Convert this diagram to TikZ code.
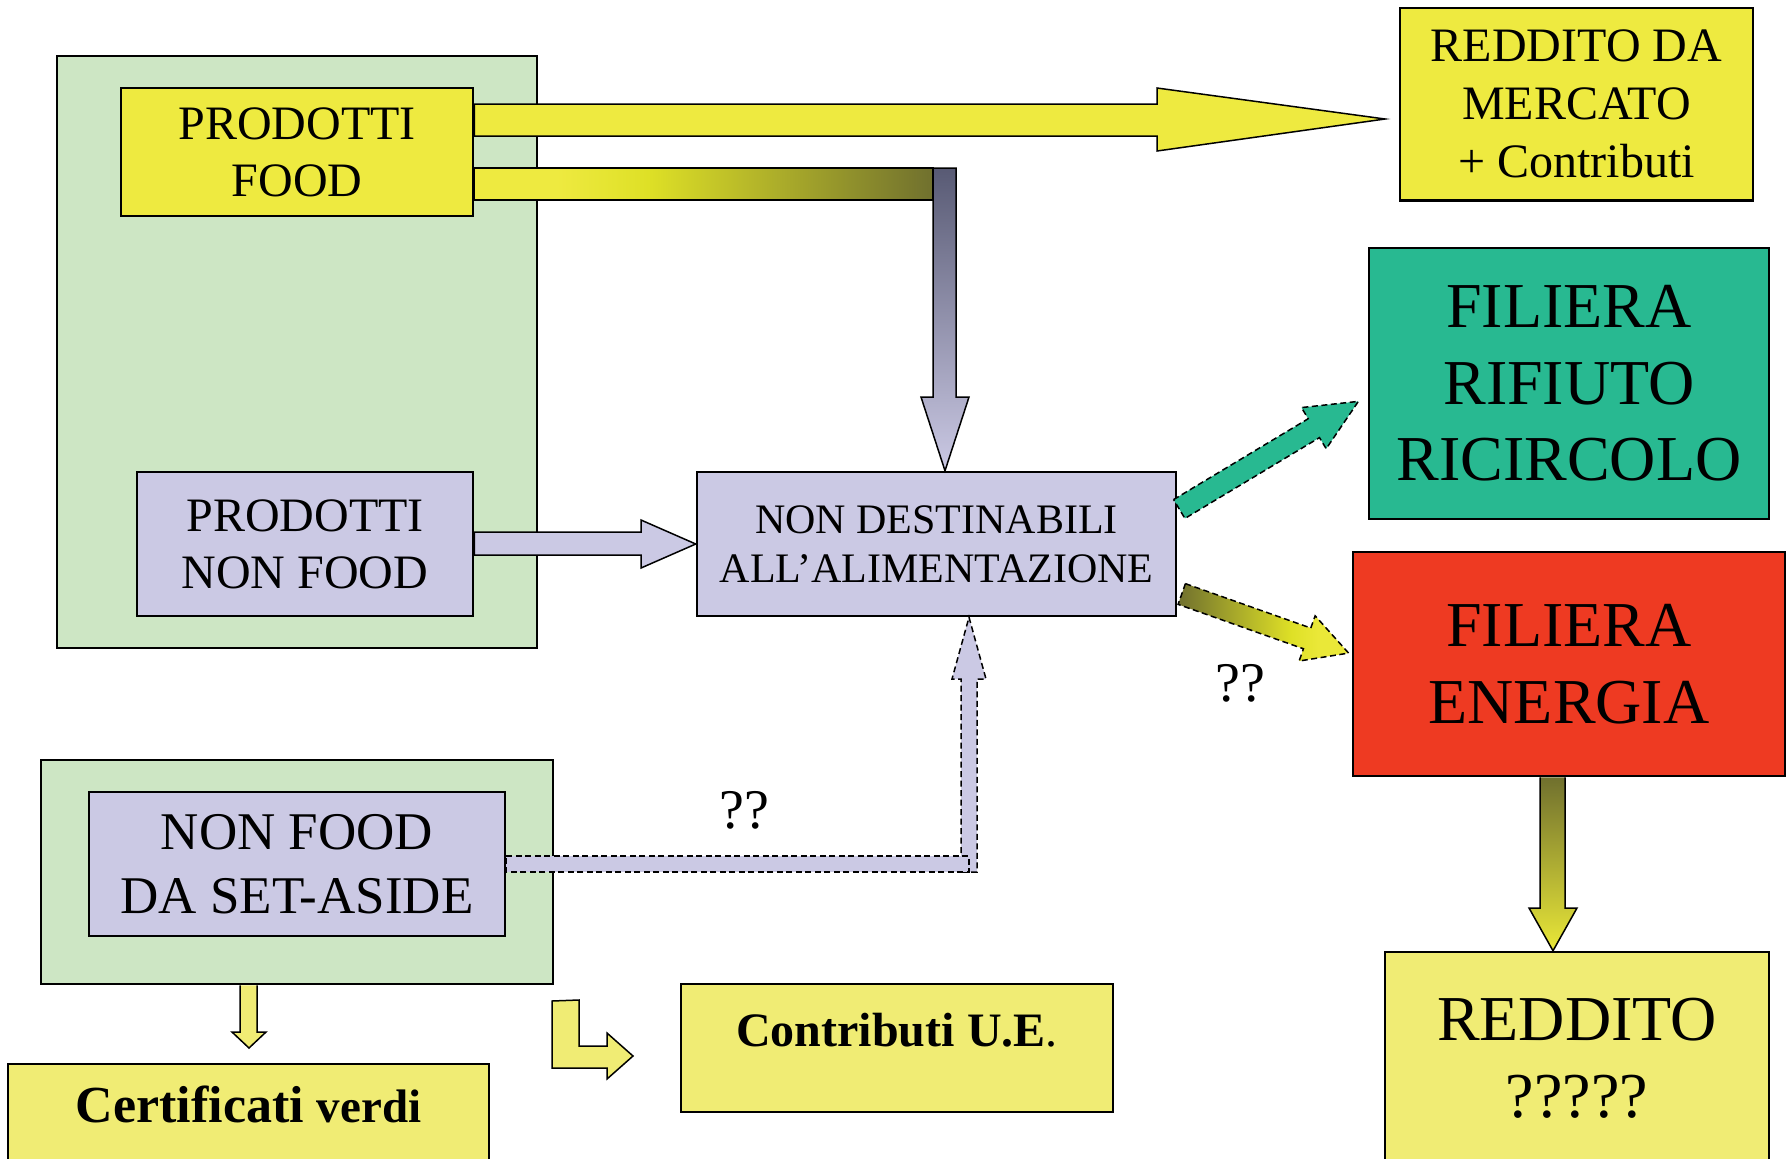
\documentclass[tikz,border=0pt]{standalone}
\usepackage{fontspec}
\setmainfont{Liberation Serif}

\definecolor{groupgreen}{RGB}{205,230,196}
\definecolor{foodyellow}{RGB}{238,234,64}
\definecolor{paleyellow}{RGB}{240,236,116}
\definecolor{arrowyellow}{RGB}{234,232,56}
\definecolor{brightyellow}{RGB}{222,224,38}
\definecolor{olivedark}{RGB}{112,112,46}
\definecolor{slatedark}{RGB}{88,90,116}
\definecolor{lilac}{RGB}{203,201,228}
\definecolor{wastegreen}{RGB}{40,185,145}
\definecolor{energyred}{RGB}{238,58,34}

\pgfdeclarehorizontalshading{foodbar}{100bp}{color(0bp)=(foodyellow); color(34bp)=(foodyellow); color(44bp)=(brightyellow); color(75bp)=(olivedark); color(100bp)=(olivedark)}
\pgfdeclarehorizontalshading{energybar}{100bp}{color(0bp)=(olivedark); color(25bp)=(olivedark); color(58bp)=(brightyellow); color(66bp)=(arrowyellow); color(100bp)=(arrowyellow)}

\newcommand{\fsz}[2]{\fontsize{#1}{#2}\selectfont}

\tikzset{
  groupbox/.style={draw, line width=1.25pt, fill=groupgreen, inner sep=0pt},
  prodbox/.style={draw, line width=1.25pt, align=center, inner sep=0pt},
  blockarrow/.style={draw, line width=0.75pt, line join=miter},
  dashedarrow/.style={blockarrow, dash pattern=on 3pt off 1.75pt},
  qmark/.style={font=\fsz{28pt}{32pt}, inner sep=0pt}
}

\begin{document}
\begin{tikzpicture}[x=0.5pt, y=-0.5pt]
	\useasboundingbox (0,0) rectangle (1789,1158);
	
	% green groups
	\node[groupbox, minimum width=240pt, minimum height=296pt] (prodgroup) at (297,352) {};
	\node[groupbox, minimum width=256pt, minimum height=112pt] (setgroup) at (297,872) {};
	
	% boxes
	\node[prodbox, fill=foodyellow, minimum width=176pt, minimum height=64pt, font=\fsz{24pt}{28.5pt}] (food) at (297,152) {PRODOTTI\\FOOD};
	\node[prodbox, fill=lilac, minimum width=168pt, minimum height=72pt, font=\fsz{24pt}{28.5pt}] (nonfood) at (305,544) {PRODOTTI\\NON FOOD};
	\node[prodbox, fill=lilac, minimum width=239.5pt, minimum height=72pt, font=\fsz{21pt}{24.5pt}] (nondest) at (936.5,544) {NON DESTINABILI\\ALL’ALIMENTAZIONE};
	\node[prodbox, fill=foodyellow, minimum width=176.5pt, minimum height=96.25pt, font=\fsz{24pt}{29pt}] (mercato) at (1576.5,104) {REDDITO DA\\MERCATO\\+ Contributi};
	\node[prodbox, fill=wastegreen, minimum width=200pt, minimum height=135.5pt, font=\fsz{32pt}{38.25pt}] (rifiuto) at (1569,383.5) {FILIERA\\RIFIUTO\\RICIRCOLO};
	\node[prodbox, fill=energyred, minimum width=216pt, minimum height=112pt, font=\fsz{32pt}{38.25pt}] (energia) at (1569,664) {FILIERA\\ENERGIA};
	\node[prodbox, fill=paleyellow, minimum width=192pt, minimum height=106pt, font=\fsz{32pt}{38.5pt}] (reddito) at (1577,1058) {REDDITO\\?????};
	\node[prodbox, fill=lilac, minimum width=208pt, minimum height=72pt, font=\fsz{26.5pt}{32pt}] (setaside) at (297,864) {NON FOOD\\DA SET-ASIDE};
	\node[prodbox, fill=paleyellow, minimum width=240.5pt, minimum height=64pt, text height=18pt, text depth=24pt, font=\bfseries\fsz{26pt}{30pt}] (certif) at (248.5,1128) {Certificati {\fsz{23.5pt}{28pt}verdi}};
	\node[prodbox, fill=paleyellow, minimum width=216pt, minimum height=64pt, text height=18pt, text depth=20pt, font=\fsz{24pt}{28pt}] (contrib) at (897,1048) {\textbf{Contributi U.E}.};
	
	\node[qmark] (qset) at (744,810) {??};
	\node[qmark] (qenergy) at (1240,683) {??};
	
	% food to market
	\draw[blockarrow, fill=foodyellow] (food.east |- 0,104) -- (1157,104) -- (1157,88) -- (1385,119) -- (1157,151) -- (1157,136) -- (food.east |- 0,136) -- cycle;
	
	% food not for eating
	\shadedraw[blockarrow, shading=foodbar] (food.east |- 0,168) -- (933,168) -- (933,200) -- (food.east |- 0,200) -- cycle;
	\shadedraw[blockarrow, top color=slatedark, bottom color=lilac] (933,168) -- (956,168) -- (956,397) -- (969,397) -- (nondest.north -| 945,0) -- (921,397) -- (933,397) -- cycle;
	
	\draw[blockarrow, fill=lilac] (nonfood.east |- 0,532) -- (641,532) -- (641,520) -- (nondest.west) -- (641,568) -- (641,555) -- (nonfood.east |- 0,555) -- cycle;
	
	% out of nondest
	\begin{scope}[shift={(nondest.east)}, shift={(2,-35)}, rotate=31]
	\draw[dashedarrow, fill=wastegreen] (0,-11) -- (157,-11) -- (157,-24) -- (209,0) -- (157,24) -- (157,11) -- (0,11) -- cycle;
	\end{scope}
	\begin{scope}[shift={(nondest.east)}, shift={(4.5,50)}, rotate=-19.5]
	\shadedraw[dashedarrow, shading=energybar] (0,-11) -- (133,-11) -- (133,-24) -- (177,0) -- (133,24) -- (133,11) -- (0,11) -- cycle;
	\end{scope}
	
	% set-aside
	\draw[dashedarrow, fill=lilac] (961,872) -- (961,679) -- (952,679) -- (nondest.south -| 969,0) -- (986,679) -- (977,679) -- (977,872) -- cycle;
	\draw[dashedarrow, fill=lilac] (setaside.east |- 0,856) -- (969,856) -- (969,872) -- (setaside.east |- 0,872) -- cycle;
	
	\draw[blockarrow, fill=paleyellow] (setgroup.south -| 240,0) -- (240,1032) -- (232,1032) -- (249,1048) -- (266,1032) -- (257,1032) -- (setgroup.south -| 257,0);
	\draw[blockarrow, fill=paleyellow] (552,1001) -- (579,1000) -- (579,1046) -- (607,1046) -- (607,1033) -- (633,1056) -- (607,1079) -- (607,1068) -- (552,1068) -- cycle;
	
	% energy income
	\shadedraw[blockarrow, top color=olivedark, bottom color=arrowyellow] (energia.south -| 1540,0) -- (1540,908) -- (1529,908) -- (reddito.north -| 1553,0) -- (1577,908) -- (1565,908) -- (energia.south -| 1565,0);
	
\end{tikzpicture}
\end{document}
